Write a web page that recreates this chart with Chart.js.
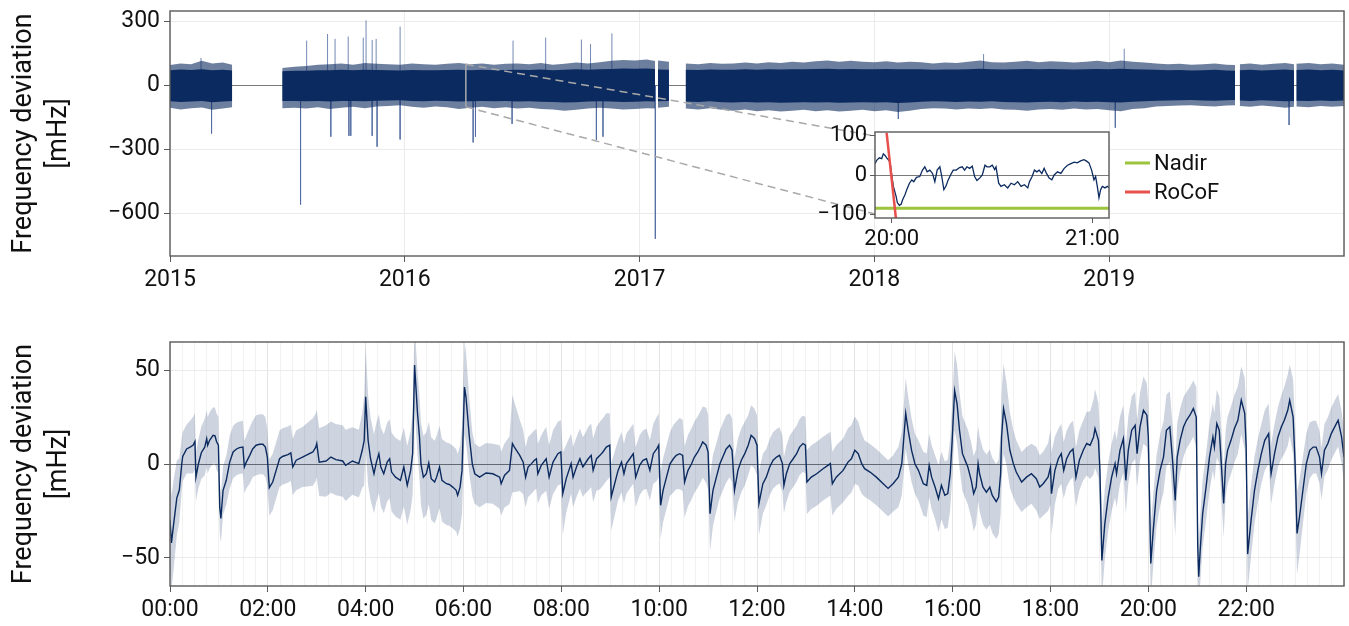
<!DOCTYPE html>
<html>
<head>
<meta charset="utf-8">
<title>Frequency deviation</title>
<script src="https://cdn.jsdelivr.net/npm/chart.js@4.4.1/dist/chart.umd.min.js"></script>
<style>
  html, body { margin: 0; padding: 0; background: #fff; }
  #wrap { position: relative; width: 1349px; height: 626px; overflow: hidden; }
  canvas { position: absolute; }
  #mainChart { left: 0; top: 0; }
  #insetChart { left: 815px; top: 122px; }
  #dailyChart { left: 0; top: 300px; }
</style>
</head>
<body>
<div id="wrap">
  <canvas id="mainChart" width="1349" height="300"></canvas>
  <canvas id="dailyChart" width="1349" height="326"></canvas>
  <canvas id="insetChart" width="430" height="140"></canvas>
</div>
<script>
// ---------- Data: 2015-2019 record (decimal years, mHz) ----------
const yearTicks = [2015, 2016, 2017, 2018, 2019];
const mainDevTicks = [-600, -300, 0, 300];

// envelope of the dense record, null = no data
const bandYears = [
  2015.00, 2015.045, 2015.09, 2015.135, 2015.18, 2015.225, 2015.265,
  2015.37,
  2015.478, 2015.53, 2015.58, 2015.63, 2015.68, 2015.73, 2015.78, 2015.83, 2015.88, 2015.93,
  2015.98, 2016.03, 2016.08, 2016.13, 2016.18, 2016.23, 2016.28, 2016.33, 2016.38, 2016.43,
  2016.48, 2016.53, 2016.58, 2016.63, 2016.68, 2016.73, 2016.78, 2016.83, 2016.88, 2016.93,
  2016.98, 2017.03, 2017.066,
  2017.072,
  2017.078, 2017.125,
  2017.16,
  2017.196, 2017.25, 2017.30, 2017.35, 2017.40, 2017.45, 2017.50, 2017.55, 2017.60, 2017.65,
  2017.70, 2017.75, 2017.80, 2017.85, 2017.90, 2017.95, 2018.00, 2018.05, 2018.10, 2018.15,
  2018.20, 2018.25, 2018.30, 2018.35, 2018.40, 2018.45, 2018.50, 2018.55, 2018.60, 2018.65,
  2018.70, 2018.75, 2018.80, 2018.85, 2018.90, 2018.95, 2019.00, 2019.05, 2019.10, 2019.15,
  2019.20, 2019.25, 2019.30, 2019.35, 2019.40, 2019.45, 2019.50, 2019.536,
  2019.546,
  2019.556, 2019.60, 2019.65, 2019.70, 2019.75, 2019.787,
  2019.792,
  2019.797, 2019.85, 2019.90, 2019.95, 2020.00
];
const bandHi = [
  96, 104, 100, 116, 103, 108, 98,
  null,
  82, 88, 92, 98, 100, 104, 98, 106, 102, 100,
  98, 104, 100, 98, 102, 106, 100, 104, 98, 102,
  104, 100, 106, 98, 102, 108, 104, 110, 116, 120,
  118, 122, 115,
  null,
  118, 112,
  null,
  104, 100, 106, 102, 104, 108, 104, 110, 106, 112,
  108, 114, 118, 112, 116, 112, 110, 114, 108, 112,
  110, 104, 108, 106, 112, 118, 110, 108, 112, 116,
  110, 114, 112, 108, 112, 116, 110, 118, 112, 108,
  104, 100, 102, 98, 100, 104, 98, 96,
  null,
  100, 104, 98, 102, 106, 100,
  null,
  102, 106, 100, 104, 98
];
const bandLo = [
  -104, -112, -106, -103, -114, -108, -102,
  null,
  -106, -104, -108, -102, -110, -104, -100, -106, -98, -96,
  -92, -100, -104, -98, -102, -110, -104, -100, -106, -102,
  -108, -104, -110, -112, -118, -114, -108, -104, -108, -112,
  -110, -106, -108,
  null,
  -104, -100,
  null,
  -108, -112, -106, -114, -118, -112, -120, -116, -122, -118,
  -114, -120, -116, -122, -118, -114, -120, -116, -124, -118,
  -110, -106, -108, -112, -108, -110, -106, -112, -114, -118,
  -112, -110, -114, -108, -112, -110, -116, -120, -110, -106,
  -98, -96, -94, -92, -96, -98, -94, -92,
  null,
  -96, -100, -94, -98, -104, -100,
  null,
  -98, -102, -96, -100, -96
];
const coreHi = [
  72, 75, 73, 76, 72, 74, 71,
  null,
  67, 69, 70, 72, 72, 74, 72, 74, 73, 72,
  71, 73, 72, 72, 73, 74, 72, 74, 72, 73,
  74, 73, 75, 72, 74, 76, 74, 76, 78, 80,
  79, 80, 78,
  null,
  76, 74,
  null,
  74, 73, 75, 74, 74, 76, 74, 76, 75, 77,
  76, 78, 79, 77, 78, 77, 76, 78, 76, 77,
  76, 74, 75, 75, 77, 79, 76, 75, 77, 78,
  76, 78, 77, 75, 77, 78, 76, 79, 77, 75,
  74, 72, 73, 71, 72, 74, 71, 70,
  null,
  72, 74, 71, 73, 75, 72,
  null,
  73, 75, 72, 74, 71
];
const coreLo = [
  -74, -77, -75, -73, -78, -75, -73,
  null,
  -72, -73, -74, -72, -75, -73, -72, -74, -71, -70,
  -69, -72, -74, -71, -73, -75, -74, -72, -74, -73,
  -75, -74, -76, -77, -79, -78, -75, -74, -75, -77,
  -76, -74, -75,
  null,
  -74, -72,
  null,
  -75, -77, -74, -78, -79, -77, -80, -78, -81, -79,
  -78, -80, -78, -81, -79, -78, -80, -78, -82, -79,
  -76, -74, -75, -77, -75, -76, -74, -77, -78, -79,
  -77, -76, -78, -75, -77, -76, -78, -80, -76, -74,
  -71, -70, -69, -68, -70, -71, -69, -68,
  null,
  -70, -72, -69, -71, -74, -72,
  null,
  -71, -73, -70, -72, -70
];

// isolated excursions outside the band
const spikeYears = [
  2015.132, 2015.177, 2015.556, 2015.582, 2015.671, 2015.685, 2015.703, 2015.759, 2015.762, 2015.770,
  2015.823, 2015.835, 2015.861, 2015.861, 2015.878, 2015.882, 2015.980, 2015.980, 2016.291, 2016.301,
  2016.457, 2016.461, 2016.600, 2016.752, 2016.791, 2016.816, 2016.844, 2016.882, 2017.067, 2018.102,
  2018.465, 2019.026, 2019.064, 2019.766
];
const spikeDev = [
  130, -225, -559, 211, 242, -240, 219, 230, -236, -236,
  225, 306, 214, -236, 219, -287, 277, -253, -267, -240,
  -180, 211, 225, 216, 195, -256, -240, 245, -719, -157,
  148, -198, 173, -185
];

const zoomYear = 2016.26;
const zoomRange = [-100, 100];

// ---------- Data: inset (minutes after 20:00) ----------
const insetRange = [-5, 65];
const insetDevTicks = [-100, 0, 100];
const insetTickMinutes = [0, 60];
const insetTickLabels = ['20:00', '21:00'];
const insetMinutes = [
  -4.96, -4.5, -3.7, -3.0, -2.5, -2.0, -1.5, -1.0, -0.5, 0,
  0.5, 1.3, 1.7, 2.3, 2.8, 3.3, 4.0, 4.5, 5.3, 6.0,
  6.6, 7.4, 8.4, 9.2, 9.9, 10.6, 11.4, 12.2, 12.9, 13.6,
  14.4, 14.9, 15.6, 16.2, 16.9, 17.6, 18.4, 19.3, 20.3, 21.1,
  21.8, 22.5, 23.3, 24.1, 24.8, 25.5, 26.3, 27.1, 27.9, 28.5,
  29.3, 30.1, 30.8, 31.2, 32.0, 32.7, 33.7, 34.7, 35.7, 36.7,
  37.7, 38.7, 39.7, 40.7, 41.2, 42.0, 42.7, 43.4, 44.1, 44.9,
  45.6, 46.3, 47.1, 47.9, 48.6, 49.6, 50.6, 51.6, 52.6, 53.6,
  54.6, 55.5, 56.5, 57.5, 58.2, 59.0, 59.8, 60.5, 61.0, 61.5,
  62.0, 62.5, 63.0, 63.8, 64.5, 65.0
];
const insetDev = [
  29, 37.5, 44, 42, 54, 50, 44, 39, 33, 0,
  -29, -54, -71, -77.5, -75, -62.5, -50, -37.5, -21, -12.5,
  -17, -6, -4, 12.5, 21, 8, 12.5, 4, -17, 12.5,
  21, 0, -37.5, -29, -12.5, 0, 12.5, 12.5, 19, 21,
  12.5, 21, 17, 22.5, -4, -14, -8, 0, 25, 21,
  21, 25, 14, 21, -21, -29, -25, -33, -21, -25,
  -17, -29, -25, -33, -17, -4, 12.5, 8, 12.5, 4,
  17, 4, -8, -12.5, 0, 8, 4, 17, 25, 29,
  33, 31, 36, 39, 36, 31, 12.5, -12.5, -4, -29,
  -58, -37.5, -29, -33, -29, -33
];
const nadirLevel = -85;
const rocofMinutes = [-1.52, 1.25];
const rocofDev = [108, -110];

// ---------- Data: daily profile (hour of day, mHz) ----------
const hourTicks = [0, 2, 4, 6, 8, 10, 12, 14, 16, 18, 20, 22];
const hourLabels = ['00:00', '02:00', '04:00', '06:00', '08:00', '10:00', '12:00', '14:00', '16:00', '18:00', '20:00', '22:00'];
const dailyDevTicks = [-50, 0, 50];

const hours = [
  0.00, 0.03, 0.07, 0.14, 0.19, 0.24, 0.26, 0.34, 0.41, 0.47, 0.51, 0.53, 0.58, 0.64, 0.71, 0.75, 0.77, 0.81, 0.88, 0.92, 0.95, 0.99,
  1.017, 1.04, 1.085, 1.15, 1.22, 1.29, 1.36, 1.42, 1.49, 1.52, 1.56, 1.63, 1.69, 1.76, 1.83, 1.90, 1.95, 1.99,
  2.03, 2.10, 2.17, 2.24, 2.30, 2.41, 2.47, 2.51, 2.58, 2.71, 2.81, 2.92, 2.98,
  3.00, 3.05, 3.19, 3.29, 3.39, 3.53, 3.59, 3.73, 3.86, 3.93, 3.97,
  4.00, 4.05, 4.10, 4.17, 4.22, 4.27, 4.31, 4.37, 4.44, 4.49, 4.53, 4.61, 4.71, 4.78, 4.85, 4.92, 4.96,
  5.00, 5.06, 5.10, 5.13, 5.18, 5.24, 5.29, 5.34, 5.41, 5.45, 5.51, 5.56, 5.65, 5.71, 5.78, 5.85, 5.88, 5.93, 5.97,
  6.02, 6.05, 6.12, 6.18, 6.23, 6.33, 6.46, 6.60, 6.74, 6.77, 6.84, 6.94,
  7.00, 7.04, 7.15, 7.22, 7.27, 7.32, 7.39, 7.45, 7.49, 7.52, 7.59, 7.69, 7.75, 7.83, 7.93, 7.99,
  8.03, 8.10, 8.20, 8.24, 8.31, 8.38, 8.44, 8.48, 8.55, 8.61, 8.65, 8.72, 8.79, 8.85, 8.92, 8.99,
  9.02, 9.09, 9.16, 9.23, 9.28, 9.33, 9.40, 9.47, 9.52, 9.60, 9.67, 9.74, 9.81, 9.88, 9.95, 9.99,
  10.03, 10.08, 10.15, 10.22, 10.29, 10.35, 10.42, 10.48, 10.52, 10.59, 10.66, 10.72, 10.79, 10.86, 10.89, 10.96,
  11.00, 11.04, 11.10, 11.17, 11.24, 11.30, 11.37, 11.44, 11.49, 11.54, 11.61, 11.68, 11.75, 11.82, 11.88, 11.95,
  12.00, 12.04, 12.12, 12.19, 12.26, 12.33, 12.40, 12.46, 12.52, 12.55, 12.60, 12.67, 12.74, 12.81, 12.87, 12.94, 12.99,
  13.02, 13.11, 13.22, 13.35, 13.45, 13.50, 13.54, 13.62, 13.76, 13.86, 13.93,
  14.00, 14.07, 14.14, 14.20, 14.31, 14.44, 14.58, 14.68, 14.78, 14.89, 14.96,
  15.04, 15.09, 15.16, 15.23, 15.30, 15.40, 15.47, 15.52, 15.57, 15.64, 15.71, 15.77, 15.84, 15.90, 15.95, 15.99,
  16.04, 16.09, 16.14, 16.20, 16.27, 16.31, 16.38, 16.43, 16.48, 16.52, 16.55, 16.62, 16.69, 16.76, 16.81, 16.89, 16.94, 16.98,
  17.00, 17.04, 17.10, 17.17, 17.24, 17.30, 17.41, 17.51, 17.61, 17.71, 17.78, 17.85, 17.95,
  18.00, 18.02, 18.09, 18.16, 18.22, 18.27, 18.33, 18.40, 18.46, 18.52, 18.59, 18.67, 18.74, 18.81, 18.88, 18.91, 18.98,
  19.01, 19.05, 19.11, 19.18, 19.25, 19.32, 19.35, 19.42, 19.49, 19.54, 19.59, 19.66, 19.73, 19.77, 19.83, 19.90, 19.97,
  20.00, 20.05, 20.10, 20.17, 20.24, 20.31, 20.37, 20.44, 20.50, 20.55, 20.59, 20.65, 20.72, 20.78, 20.85, 20.92, 20.98,
  21.01, 21.03, 21.06, 21.11, 21.18, 21.25, 21.32, 21.35, 21.40, 21.45, 21.50, 21.54, 21.58, 21.62, 21.69, 21.76, 21.83, 21.90, 21.97,
  22.00, 22.03, 22.10, 22.17, 22.24, 22.31, 22.38, 22.46, 22.51, 22.58, 22.65, 22.72, 22.78, 22.85, 22.89, 22.96,
  23.00, 23.04, 23.09, 23.16, 23.23, 23.30, 23.37, 23.43, 23.50, 23.54, 23.60, 23.67, 23.74, 23.81, 23.88, 23.95, 24.00
];
const meanDev = [
  -30, -42, -33, -18, -14, 0, 4, 8, 9, 10, 12, -7, 0, 6, 9, 13.5, 10, 12.6, 15.3, 15, 12, 10,
  -23, -29, -14, -8.7, 1, 6.4, 8, 8.7, 9, -1.6, 1, 4.6, 8, 10, 10.5, 10.5, 9, 3.7,
  -12.6, -9.6, -3.4, 2.8, 4, 5, 5.9, -1.6, 2, 3.7, 5, 6.4, 9,
  10.9, 1, 1.6, 3.7, 2.3, 1.6, -0.7, 1.6, 0.2, 7.3, 12.6,
  35.8, 12.6, 2.8, -5.2, 1, 5.5, -1.6, -5.2, 1, 2.8, -4.3, -7, -8.7, -1.6, -11.4, -3.4, 5.5,
  52.7, 27, 14.4, 0, -7, -5.2, 0.5, -7.8, -9.6, -7, -1.6, -8.7, -10.5, -10.9, -12.3, -14, -16.7, -12.3, -3.4,
  41, 35.8, 14.4, 0, -5.2, -7, -4.8, -5.2, -7, -10.5, -6, -3.4,
  10.9, 9, 4.6, 1, -7, -1.6, 0.2, 2, 2.8, -5.2, -0.7, 2.8, -7, 1, 5.5, 6.4,
  -15.8, -7.8, 0.2, -7, -1.6, 2.8, -1.6, 0, 2.8, 4.6, -3.4, 2.8, 4.6, 6.4, 9, 10,
  -17.6, -10.5, -3.4, 1, -5.2, 0.2, 2.8, 5.5, -7, -0.7, 2, 2.8, -3.4, 5.5, 8, 10,
  -22, -14, -7, 0, 2.8, 4.6, 5.5, 4.6, -9.6, -3.4, 0, 3.7, 6.4, 10, 11.7, 10,
  6.4, -26.5, -14, -7, 0, 3.7, 8, 10, 7.3, -14, -3.4, 2, 5.5, 10, 15.3, 13.5,
  10, -21, -10.5, -7, -1.6, 2, 3.7, 4.6, 0.2, -11.4, -5.2, 0.2, 2.8, 5.5, 9, 10.9, 10,
  -9.6, -7, -5.2, -2.5, -0.7, 0.2, -10.5, -7, -3.4, 1, 2.8,
  7.3, 5.5, 0.2, -2.5, -4.3, -7, -10.5, -13, -10.5, -7, 0.2,
  27, 18, 7.3, 0, -3.4, -10.5, -11.4, -0.7, -7, -12.3, -18.5, -11.4, -16.7, -15.8, -5.2, 12.6,
  39, 32, 18, 5.5, 1, -1.6, -8.7, -15.8, -12.3, 0.2, -5.2, -12.3, -15, -12.3, -16.7, -20, -17.6, -5.2,
  14.4, 29.5, 21.5, 7.3, 0.2, -4.3, -9.6, -7, -5.2, -7.8, -12.3, -10.5, -7,
  -1.6, -15.8, -3.4, 2.8, 5.5, -3.4, 2.8, 6.4, 8, -7, 2, 7.3, 10.9, 10, 14.4, 18.9, 12.6,
  -3.4, -51.4, -31.9, -17.6, -7, 0.2, -5.2, 7.3, 13.5, -8.7, 7.3, 18, 20.6, 5.5, 19.8, 28.6, 26,
  14.4, -53, -35.4, -14, -3.4, 3.7, 18, 19.8, 0.2, -19.4, 3.7, 12.6, 19.8, 23.3, 26, 29.5, 25,
  -44, -60, -46, -26.5, -12.3, 3.7, 14.4, 9, 21.5, 18, -3.4, -21, 0.2, 7.3, 12.6, 18.9, 23.3, 34, 27,
  9, -48, -30, -14, -3.4, 5.5, 12.6, 16.2, -5.2, 5.5, 14.4, 19.8, 23.3, 28.6, 34, 25,
  0.2, -37, -28.3, -14, 0.2, 7.3, 9, 9, 3.7, -5.2, 7.3, 10.9, 16.2, 19.8, 23.3, 14.4, 3.7
];
// half width of the shaded band
const spread = [
  27, 25, 24, 20, 17, 14, 13, 13, 14, 15, 15, 13, 13, 14, 15, 15, 15, 15, 15, 15, 15, 15,
  14, 13, 13, 13, 14, 14, 14, 14, 14, 14, 14, 15, 15, 16, 16, 16, 16, 15,
  15, 15, 15, 15, 15, 15, 15, 15, 16, 16, 17, 18, 18,
  18, 18, 19, 19, 19, 19, 19, 18, 18, 20, 24,
  27, 24, 22, 21, 21, 21, 21, 21, 21, 21, 21, 21, 21, 21, 21, 21, 22,
  22, 22, 22, 22, 22, 22, 22, 22, 22, 22, 22, 22, 22, 22, 22, 22, 22, 22, 23,
  25, 24, 20, 17, 16, 16, 16, 16, 17, 17, 17, 18,
  26, 24, 19, 17, 16, 16, 16, 16, 16, 16, 16, 17, 17, 17, 17, 17,
  22, 18, 16, 16, 16, 16, 16, 16, 17, 17, 17, 17, 18, 18, 18, 17,
  18, 17, 16, 16, 16, 16, 16, 16, 16, 16, 16, 16, 16, 16, 17, 17,
  18, 17, 17, 17, 18, 18, 19, 19, 19, 19, 19, 19, 19, 19, 19, 20,
  20, 20, 19, 18, 18, 18, 18, 17, 17, 17, 17, 17, 17, 16, 16, 16,
  16, 17, 16, 15, 15, 15, 15, 15, 15, 15, 15, 15, 15, 15, 15, 15, 15,
  17, 17, 17, 17, 17, 17, 17, 17, 17, 18, 18,
  18, 17, 16, 15, 15, 15, 15, 15, 15, 16, 17,
  19, 18, 17, 16, 16, 17, 17, 17, 17, 17, 18, 18, 18, 18, 19, 20,
  21, 21, 20, 20, 20, 20, 20, 20, 20, 20, 20, 20, 20, 20, 20, 20, 20, 22,
  24, 24, 22, 20, 18, 17, 16, 16, 16, 17, 17, 17, 18,
  20, 22, 18, 16, 16, 15, 15, 15, 15, 16, 16, 16, 17, 18, 20, 21, 20,
  20, 20, 19, 18, 18, 18, 18, 18, 18, 18, 18, 18, 18, 18, 18, 18, 17,
  17, 20, 19, 19, 19, 19, 19, 19, 19, 19, 18, 17, 16, 15, 15, 15, 16,
  17, 18, 18, 18, 18, 18, 18, 18, 18, 18, 18, 18, 18, 18, 18, 18, 18, 18, 19,
  20, 20, 19, 18, 17, 16, 16, 16, 16, 16, 16, 17, 18, 19, 19, 20,
  21, 22, 20, 18, 16, 15, 14, 14, 14, 14, 14, 14, 14, 14, 14, 14, 14
];

// ---------- Style ----------
const FONT = 'Roboto';
const NAVY = '#0b2a5f';
const GRID = '#ebebeb';
const ZERO = '#7a7a7a';
const FRAME = '#5a5a5a';

Chart.defaults.font.family = FONT;
Chart.defaults.font.size = 23;
Chart.defaults.color = '#111';

const pts = (xs, ys) => xs.map((x, i) => ({ x, y: ys[i] }));
const minus = v => (v < 0 ? '\u2212' + Math.abs(v) : String(v));
const fixedTicks = values => s => { s.ticks = values.map(v => ({ value: v })); };
// fixed axis box, no extra room for overhanging labels
const boxWidth = w => s => { s.width = w; s.paddingTop = 0; s.paddingBottom = 0; };
const boxHeight = h => s => { s.height = h; s.paddingLeft = 0; s.paddingRight = 0; };

const frame = {
  id: 'frame',
  afterDraw(chart) {
    const { ctx, chartArea: a } = chart;
    ctx.save();
    ctx.strokeStyle = FRAME;
    ctx.lineWidth = 1.4;
    ctx.strokeRect(a.left, a.top, a.right - a.left, a.bottom - a.top);
    ctx.restore();
  }
};

const baseOptions = {
  responsive: false,
  animation: false,
  events: [],
  elements: { point: { radius: 0 }, line: { tension: 0 } },
  plugins: { legend: { display: false }, tooltip: { enabled: false } }
};

const yTitle = {
  display: true,
  text: ['Frequency deviation', '[mHz]'],
  font: { size: 27, lineHeight: 1.3 },
  color: '#111',
  padding: { top: 7 }
};

// ---------- Inset ----------
const insetPlot = {
  id: 'insetPlot',
  beforeDraw(chart) {
    const { ctx, chartArea: a } = chart;
    ctx.save();
    ctx.fillStyle = '#fff';
    ctx.fillRect(a.left, a.top, a.right - a.left, a.bottom - a.top);
    ctx.restore();
  },
  afterDraw(chart) {
    const { ctx, chartArea: a } = chart;
    const mid = (a.top + a.bottom) / 2;
    const items = chart.data.datasets.filter(d => d.inLegend);
    ctx.save();
    ctx.font = '22px ' + FONT;
    ctx.textBaseline = 'middle';
    ctx.fillStyle = '#111';
    items.forEach((d, i) => {
      const y = mid - 12 + i * 29;
      ctx.strokeStyle = d.borderColor;
      ctx.lineWidth = 3;
      ctx.beginPath();
      ctx.moveTo(a.right + 16, y);
      ctx.lineTo(a.right + 41, y);
      ctx.stroke();
      ctx.fillText(d.label, a.right + 45, y + 1);
    });
    ctx.restore();
  }
};

const insetChart = new Chart(document.getElementById('insetChart'), {
  type: 'line',
  data: {
    datasets: [
      { label: 'Nadir', inLegend: true, data: pts(insetRange, [nadirLevel, nadirLevel]), borderColor: '#9cc43d', borderWidth: 3, order: 2 },
      { label: 'trace', data: pts(insetMinutes, insetDev), borderColor: NAVY, borderWidth: 1.3, order: 1 },
      { label: 'RoCoF', inLegend: true, data: pts(rocofMinutes, rocofDev), borderColor: '#e8504c', borderWidth: 2.5, order: 0 }
    ]
  },
  options: {
    ...baseOptions,
    layout: { padding: { top: 10, right: 136, left: 0, bottom: 0 } },
    scales: {
      x: {
        type: 'linear', min: insetRange[0], max: insetRange[1],
        afterBuildTicks: fixedTicks(insetTickMinutes),
        ticks: { font: { size: 22 }, padding: 3, maxRotation: 0, callback: v => insetTickLabels[insetTickMinutes.indexOf(v)] || '' },
        grid: { color: 'rgba(0,0,0,0)', tickColor: FRAME, tickLength: 5 },
        border: { display: false },
        afterFit: boxHeight(44)
      },
      y: {
        min: -110, max: 110,
        afterBuildTicks: fixedTicks(insetDevTicks),
        ticks: { font: { size: 22 }, padding: 3, callback: minus },
        grid: { color: c => (c.tick && c.tick.value === 0 ? ZERO : 'rgba(0,0,0,0)'), tickColor: FRAME, tickLength: 5 },
        border: { display: false },
        afterFit: boxWidth(60)
      }
    }
  },
  plugins: [insetPlot, frame]
});

// ---------- Main record ----------
const spikePts = spikeYears.flatMap((x, i) => [{ x, y: 0 }, { x, y: spikeDev[i] }, { x, y: null }]);

const connector = {
  id: 'connector',
  afterDraw(chart) {
    const { ctx, scales: { x, y } } = chart;
    const mb = chart.canvas.getBoundingClientRect();
    const ib = insetChart.canvas.getBoundingClientRect();
    const ix = insetChart.scales.x, iy = insetChart.scales.y;
    const x0 = x.getPixelForValue(zoomYear);
    ctx.save();
    ctx.strokeStyle = '#a9a9a9';
    ctx.lineWidth = 1.5;
    ctx.beginPath();
    ctx.moveTo(x0, y.getPixelForValue(zoomRange[1]));
    ctx.lineTo(x0, y.getPixelForValue(zoomRange[0]));
    ctx.stroke();
    ctx.setLineDash([8, 5]);
    zoomRange.forEach(v => {
      ctx.beginPath();
      ctx.moveTo(x0, y.getPixelForValue(v));
      ctx.lineTo(ib.left - mb.left + ix.getPixelForValue(insetRange[0]), ib.top - mb.top + iy.getPixelForValue(v));
      ctx.stroke();
    });
    ctx.restore();
  }
};

new Chart(document.getElementById('mainChart'), {
  type: 'line',
  data: {
    datasets: [
      { data: pts(bandYears, coreHi), borderColor: 'transparent', fill: false, order: 1 },
      { data: pts(bandYears, coreLo), borderColor: 'transparent', backgroundColor: NAVY, fill: '-1', order: 1 },
      { data: pts(bandYears, bandHi), borderColor: 'transparent', fill: false, order: 2 },
      { data: pts(bandYears, bandLo), borderColor: 'transparent', backgroundColor: 'rgba(11,42,95,0.6)', fill: '-1', order: 2 },
      { data: spikePts, borderColor: 'rgba(80,108,160,0.8)', borderWidth: 1, order: 3 }
    ]
  },
  options: {
    ...baseOptions,
    layout: { padding: { top: 11, right: 5, left: 0, bottom: 0 } },
    scales: {
      x: {
        type: 'linear', min: 2015, max: 2020,
        afterBuildTicks: fixedTicks(yearTicks.concat([2020])),
        ticks: { padding: 4, maxRotation: 0, autoSkip: false, callback: v => (yearTicks.includes(v) ? String(v) : '') },
        grid: { color: GRID, tickColor: c => (c.tick && c.tick.value < 2020 ? FRAME : 'rgba(0,0,0,0)'), tickLength: 6 },
        border: { display: false },
        afterFit: boxHeight(44)
      },
      y: {
        min: -800, max: 350,
        afterBuildTicks: fixedTicks(mainDevTicks),
        ticks: { padding: 4, callback: minus },
        grid: { color: c => (c.tick && c.tick.value === 0 ? ZERO : GRID), tickColor: FRAME, tickLength: 6 },
        border: { display: false },
        title: yTitle,
        afterFit: boxWidth(170)
      }
    }
  },
  plugins: [frame, connector]
});

// ---------- Daily profile ----------
const upper = meanDev.map((v, i) => v + spread[i]);
const lower = meanDev.map((v, i) => v - spread[i]);

new Chart(document.getElementById('dailyChart'), {
  type: 'line',
  data: {
    datasets: [
      { data: pts(hours, meanDev), borderColor: NAVY, borderWidth: 1.4, order: 1 },
      { data: pts(hours, upper), borderColor: 'transparent', fill: false, order: 2 },
      { data: pts(hours, lower), borderColor: 'transparent', backgroundColor: 'rgba(11,42,95,0.2)', fill: '-1', order: 2 }
    ]
  },
  options: {
    ...baseOptions,
    layout: { padding: { top: 42, right: 5, left: 0, bottom: 0 } },
    scales: {
      x: {
        type: 'linear', min: 0, max: 24,
        ticks: {
          stepSize: 0.25, includeBounds: false, autoSkip: false, maxRotation: 0, padding: 4,
          callback: v => hourLabels[hourTicks.indexOf(v)] || ''
        },
        grid: {
          color: c => (c.tick && c.tick.value % 2 === 0 ? '#e4e4e4' : '#f2f2f2'),
          tickColor: c => (c.tick && hourTicks.includes(c.tick.value) ? FRAME : 'rgba(0,0,0,0)'),
          tickLength: 6
        },
        border: { display: false },
        afterFit: boxHeight(40)
      },
      y: {
        min: -65, max: 65,
        afterBuildTicks: fixedTicks(dailyDevTicks),
        ticks: { padding: 4, callback: minus },
        grid: { color: c => (c.tick && c.tick.value === 0 ? ZERO : GRID), tickColor: FRAME, tickLength: 6 },
        border: { display: false },
        title: yTitle,
        afterFit: boxWidth(170)
      }
    }
  },
  plugins: [frame]
});
</script>
</body>
</html>
